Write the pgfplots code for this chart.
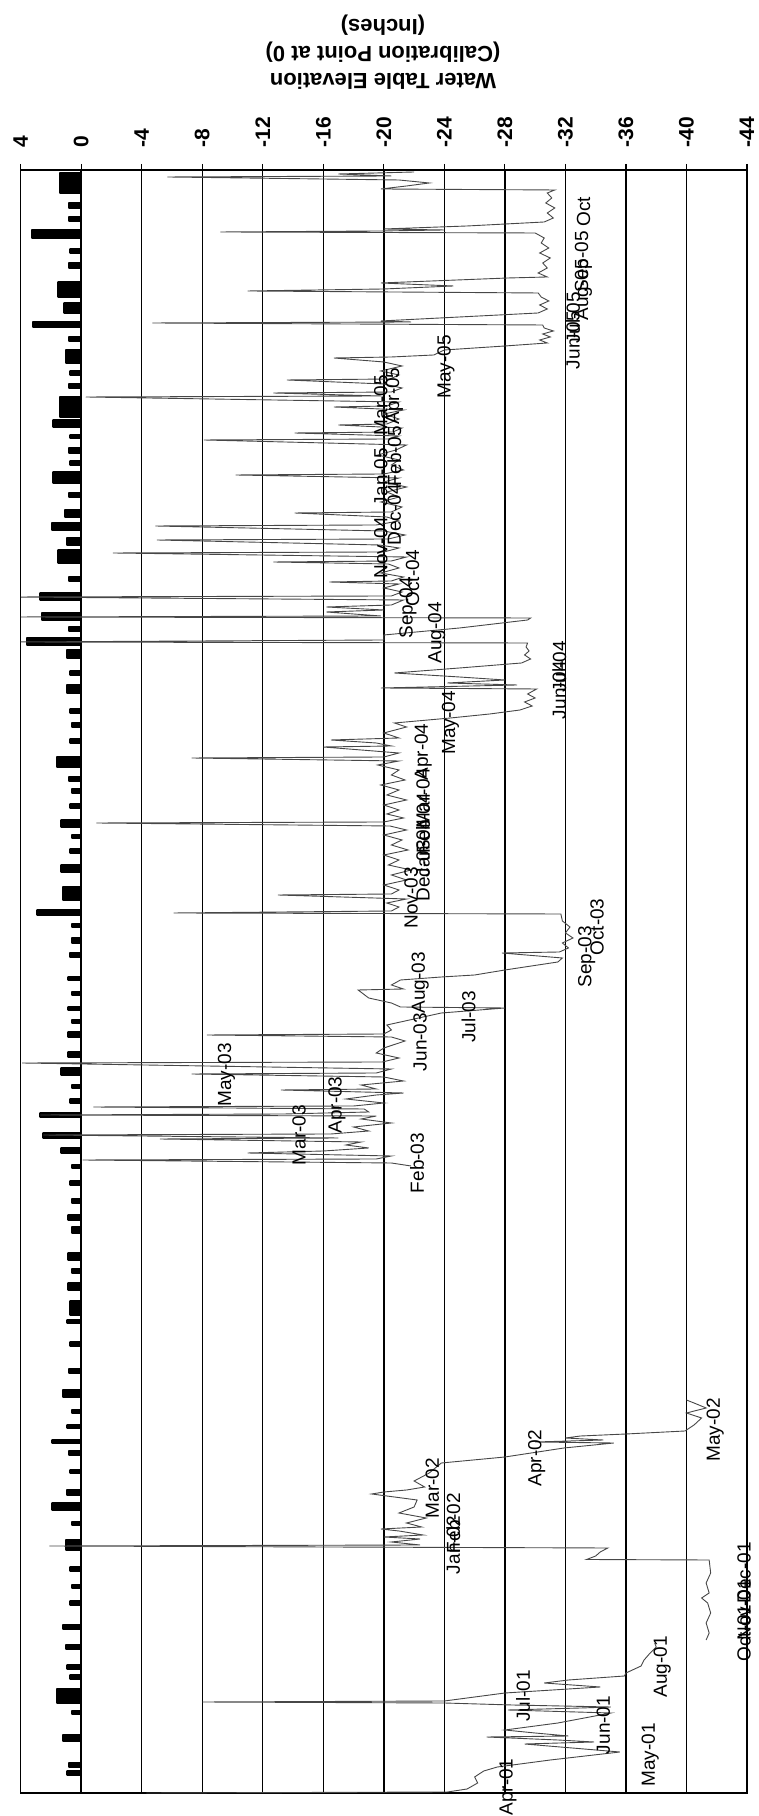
\documentclass[border=0pt]{standalone}
\usepackage{pgfplots}
\pgfplotsset{compat=1.18}
\usepackage{fontspec}
\setmainfont{Liberation Sans}
\begin{document}
\begin{tikzpicture}[x=1pt,y=1pt,
  dl/.style={rotate=90, font=\fontsize{9.5}{10}\selectfont, inner sep=0pt}]
\useasboundingbox (-10.35,-11.5) rectangle (369.15,896.5);
\begin{axis}[
  at={(0,0)}, anchor=south west,
  scale only axis, width=363.15pt, height=811.5pt,
  x dir=reverse, xmin=-44, xmax=4, ymin=0, ymax=1623,
  xtick={4,0,-4,-8,-12,-16,-20,-24,-28,-32,-36,-40,-44},
  xticklabels={4,0,-4,-8,-12,-16,-20,-24,-28,-32,-36,-40,-44},
  xtick pos=right, xticklabel pos=right,
  ytick=\empty,
  tick align=outside, major tick length=3pt,
  xmajorgrids, grid style={black, line width=0.7pt},
  axis line style={black, line width=0.8pt},
  tick style={black, line width=0.6pt},
  xticklabel style={rotate=90, anchor=west, font=\fontsize{10.5}{12}\selectfont\bfseries, inner sep=0pt},
  xticklabel shift=8pt,
  clip mode=individual,
]
% rainfall-like thick series along 0
\addplot[black, fill=black, line width=1.2pt, line join=round] coordinates {
(0,0)
(0,18)(0.9,18)(0.9,22)(0,22)
(0,26)(0.8,26)(0.8,30)(0,30)
(0,52)(1.2,52)(1.2,58)(0,58)
(0,79)(0.6,79)(0.6,82)(0,82)
(0,90)(1.6,90)(1.6,104)(0,104)
(0,114)(0.7,114)(0.7,118)(0,118)
(0,124)(0.9,124)(0.9,128)(0,128)
(0,144)(1.0,144)(1.0,148)(0,148)
(0,164)(1.2,164)(1.2,168)(0,168)
(0,188)(0.7,188)(0.7,192)(0,192)
(0,205)(0.6,205)(0.6,208)(0,208)
(0,222)(0.7,222)(0.7,226)(0,226)
(0,243)(1.0,243)(1.0,253)(0,253)
(0,268)(0.6,268)(0.6,271)(0,271)
(0,283)(1.9,283)(1.9,290)(0,290)
(0,298)(0.95,298)(0.95,303)(0,303)
(0,320)(0.7,320)(0.7,323)(0,323)
(0,338)(0.8,338)(0.8,342)(0,342)
(0,350)(1.9,350)(1.9,353)(0,353)
(0,365)(0.9,365)(0.9,368)(0,368)
(0,380)(0.6,380)(0.6,383)(0,383)
(0,396)(1.2,396)(1.2,403)(0,403)
(0,420)(0.8,420)(0.8,424)(0,424)
(0,447)(0.7,447)(0.7,451)(0,451)
(0,470)(0.9,470)(0.9,473)(0,473)
(0,478)(0.7,478)(0.7,492)(0,492)
(0,503)(0.85,503)(0.85,510)(0,510)
(0,520)(0.6,520)(0.6,524)(0,524)
(0,533)(0.85,533)(0.85,540)(0,540)
(0,560)(0.6,560)(0.6,566)(0,566)
(0,573)(0.85,573)(0.85,578)(0,578)
(0,590)(0.6,590)(0.6,594)(0,594)
(0,608)(0.7,608)(0.7,612)(0,612)
(0,625)(0.6,625)(0.6,628)(0,628)
(0,640)(1.3,640)(1.3,645)(0,645)
(0,655)(2.5,655)(2.5,660)(0,660)
(0,676)(2.7,676)(2.7,680)(0,680)
(0,690)(0.7,690)(0.7,694)(0,694)
(0,705)(0.6,705)(0.6,708)(0,708)
(0,718)(1.3,718)(1.3,725)(0,725)
(0,736)(0.85,736)(0.85,741)(0,741)
(0,756)(0.85,756)(0.85,761)(0,761)
(0,770)(0.6,770)(0.6,773)(0,773)
(0,783)(0.85,783)(0.85,786)(0,786)
(0,798)(0.6,798)(0.6,801)(0,801)
(0,813)(0.85,813)(0.85,816)(0,816)
(0,836)(0.75,836)(0.75,840)(0,840)
(0,850)(0.6,850)(0.6,855)(0,855)
(0,866)(0.6,866)(0.6,869)(0,869)
(0,878)(2.9,878)(2.9,883)(0,883)
(0,893)(1.2,893)(1.2,906)(0,906)
(0,921)(1.3,921)(1.3,928)(0,928)
(0,940)(0.7,940)(0.7,944)(0,944)
(0,955)(0.6,955)(0.6,958)(0,958)
(0,966)(1.3,966)(1.3,973)(0,973)
(0,985)(0.7,985)(0.7,989)(0,989)
(0,1000)(0.6,1000)(0.6,1004)(0,1004)
(0,1012)(0.8,1012)(0.8,1016)(0,1016)
(0,1026)(1.6,1026)(1.6,1036)(0,1036)
(0,1050)(0.7,1050)(0.7,1054)(0,1054)
(0,1066)(0.6,1066)(0.6,1070)(0,1070)
(0,1080)(0.7,1080)(0.7,1084)(0,1084)
(0,1100)(0.95,1100)(0.95,1108)(0,1108)
(0,1118)(0.7,1118)(0.7,1122)(0,1122)
(0,1135)(0.95,1135)(0.95,1143)(0,1143)
(0,1148)(3.6,1148)(3.6,1155)(0,1155)
(0,1162)(0.8,1162)(0.8,1166)(0,1166)
(0,1173)(2.6,1173)(2.6,1180)(0,1180)
(0,1193)(2.7,1193)(2.7,1200)(0,1200)
(0,1212)(0.8,1212)(0.8,1216)(0,1216)
(0,1230)(1.5,1230)(1.5,1243)(0,1243)
(0,1248)(0.95,1248)(0.95,1255)(0,1255)
(0,1263)(1.95,1263)(1.95,1270)(0,1270)
(0,1276)(1.07,1276)(1.07,1283)(0,1283)
(0,1296)(0.8,1296)(0.8,1300)(0,1300)
(0,1310)(1.84,1310)(1.84,1321)(0,1321)
(0,1328)(0.7,1328)(0.7,1332)(0,1332)
(0,1340)(0.8,1340)(0.8,1345)(0,1345)
(0,1355)(0.7,1355)(0.7,1358)(0,1358)
(0,1366)(1.84,1366)(1.84,1373)(0,1373)
(0,1376)(1.4,1376)(1.4,1396)(0,1396)
(0,1405)(0.8,1405)(0.8,1409)(0,1409)
(0,1418)(0.7,1418)(0.7,1422)(0,1422)
(0,1430)(1.0,1430)(1.0,1443)(0,1443)
(0,1452)(0.8,1452)(0.8,1456)(0,1456)
(0,1466)(3.2,1466)(3.2,1471)(0,1471)
(0,1480)(1.1,1480)(1.1,1490)(0,1490)
(0,1496)(1.5,1496)(1.5,1511)(0,1511)
(0,1525)(0.8,1525)(0.8,1530)(0,1530)
(0,1540)(0.7,1540)(0.7,1544)(0,1544)
(0,1555)(3.27,1555)(3.27,1563)(0,1563)
(0,1572)(0.8,1572)(0.8,1576)(0,1576)
(0,1585)(0.8,1585)(0.8,1590)(0,1590)
(0,1600)(1.4,1600)(1.4,1620)(0,1620)
(0,1623)} -- cycle;
% water table trace, Apr-Aug 2001
\addplot[black!72, line width=0.45pt] coordinates {
(-4.3,0)(-24.2,1)(-25.5,4)(-26.2,10)(-26.0,16)(-26.6,22)(-27.5,26)(-31.0,33)(-35.6,41)(-29.3,49)(-33.9,51)(-31.5,53)(-26.8,56)(-32.2,57)(-30.0,60)(-28.0,63)(-31.5,70)(-35.0,80)(-28.2,83)(-33.0,85)(-35.0,86)(-28.5,88)(-24.0,90)(-8.0,91)(-24.0,92)(-28.0,100)(-34.3,106)(-30.6,110)(-32.2,113)(-35.9,117)(-36.0,120)(-37.0,127)(-37.2,133)(-37.6,140)(-38.0,146)(-37.9,150)
};
% water table trace, Oct 2001 - May 2002
\addplot[black!72, line width=0.45pt] coordinates {
(-41.3,153)(-41.5,160)(-41.3,170)(-41.6,180)(-41.4,190)(-41.0,195)(-41.5,200)(-41.3,210)(-41.6,220)(-41.5,233)(-33.4,233.5)(-34.0,237)(-34.3,241)(-34.8,245)(2.1,247)(-22.4,248)(-20.5,251)(-22.4,254)(-20.0,256)(-22.6,258)(-21.0,262)(-19.8,264)(-22.5,266)(-21.5,270)(-22.8,275)(-21.0,280)(-22.0,286)(-22.2,293)(-19.2,299)(-20.0,301)(-21.5,303)(-22.7,306)(-22.0,312)(-23.0,320)(-23.8,330)(-28.0,336)(-31.9,345)(-35.2,350)(-30.0,351)(-34.5,353)(-32.0,355)(-33.0,357)(-36.0,359)(-39.9,362)(-40.5,368)(-41.0,375)(-40.0,380)(-41.3,385)(-40.5,390)(-40.0,393)
};
% water table trace, 2003-2005
\addplot[black!72, line width=0.45pt] coordinates {
(-21.8,627)(-20.5,630)(-0.1,633)(-19.5,634)(-20.5,637)(-11.0,640)(-16.0,642)(-19.0,645)(-17.5,648)(-18.5,651)(-5.2,654)(-17.0,655)(2.5,658)(-16.5,659)(-19.0,662)(-18.0,666)(-20.5,670)(-18.5,674)(-19.5,677)(2.7,678)(-13.4,679)(-19.0,681)(-18.7,684)(-0.8,686)(-18.0,687)(-20.0,690)(-17.5,694)(-19.5,698)(-21.3,700)(-13.2,703)(-19.5,704)(-18.5,708)(-21.3,712)(-20.0,716)(-7.3,719)(-19.5,720)(-20.5,724)(3.9,730)(-19.9,731)(-21.0,735)(-19.5,740)(-20.0,745)(-21.4,752)(-20.5,756)(-8.3,758)(-20.0,759)(-20.5,763)(-20.2,768)(-22.0,774)(-23.8,780)(-28.0,785)(-21.1,786)(-20.5,790)(-19.0,795)(-18.3,803)(-21.3,804)(-20.5,808)(-21.1,813)(-23.8,816)(-26.0,818)(-28.0,823)(-31.5,831)(-31.8,835)(-27.8,840)(-31.6,841)(-32.2,845)(-31.8,850)(-32.5,855)(-32.0,860)(-32.3,866)(-31.8,872)(-31.7,879)(-6.1,880)(-20.5,882)(-21.0,886)(-20.2,890)(-21.5,894)(-13.0,898)(-20.5,899)(-21.0,903)(-20.0,908)(-21.5,913)(-20.5,918)(-21.8,923)(-20.3,928)(-21.0,933)(-20.0,938)(-21.6,943)(-20.5,948)(-21.2,953)(-20.0,958)(-21.5,963)(-20.4,967)(-1.0,970)(-20.0,971)(-21.3,975)(-20.2,979)(-21.0,983)(-20.0,988)(-21.5,993)(-20.2,998)(-21.0,1003)(-19.8,1008)(-21.4,1013)(-20.5,1018)(-21.0,1023)(-19.6,1028)(-21.0,1032)(-7.3,1035)(-20.0,1036)(-21.0,1040)(-16.0,1046)(-20.5,1047)(-19.5,1050)(-16.5,1053)(-21.0,1055)(-20.0,1060)(-21.5,1066)(-20.7,1070)(-24.4,1075)(-27.0,1079)(-29.0,1083)(-29.8,1087)(-29.3,1091)(-30.0,1095)(-29.5,1099)(-30.1,1104)(-19.8,1105)(-28.8,1108)(-24.2,1110)(-28.0,1113)(-25.0,1116)(-20.7,1120)(-25.0,1125)(-29.1,1130)(-29.7,1134)(-29.3,1138)(-29.6,1142)(-29.4,1146)(-29.5,1150)(4.5,1151)(-20.0,1153)(-20.0,1158)(-25.0,1165)(-29.5,1173)(-29.7,1175)(4.5,1176)(-19.8,1177)(-16.2,1181)(-20.0,1183)(-16.2,1186)(-20.5,1188)(-21.3,1193)(4.5,1196)(-20.5,1197)(-21.2,1201)(-20.0,1205)(-21.0,1209)(-16.4,1211)(-20.5,1212)(-21.3,1216)(-19.8,1220)(-21.0,1225)(-20.3,1229)(-12.7,1231)(-20.5,1232)(-21.5,1236)(-2.1,1240)(-20.0,1241)(-21.0,1245)(-19.7,1248)(-5.0,1253)(-20.3,1254)(-21.4,1258)(-20.0,1262)(-4.9,1267)(-19.5,1268)(-21.0,1272)(-20.2,1276)(-14.1,1280)(-20.5,1281)(-21.2,1286)(-19.8,1291)(-21.0,1296)(-20.2,1301)(-21.5,1306)(-20.0,1311)(-21.0,1315)(-10.2,1318)(-20.0,1319)(-21.3,1323)(-20.5,1328)(-21.0,1333)(-19.6,1338)(-20.8,1343)(-21.5,1348)(-8.1,1353)(-20.3,1354)(-21.0,1357)(-14.1,1360)(-20.6,1361)(-21.2,1365)(-17.0,1368)(-20.2,1369)(-21.0,1374)(-20.0,1379)(-21.3,1383)(-16.7,1386)(-20.2,1387)(-21.0,1391)(-0.3,1396)(-19.8,1397)(-12.7,1400)(-20.5,1401)(-21.2,1405)(-20.0,1409)(-13.6,1413)(-20.4,1414)(-21.0,1418)(-19.8,1422)(-21.2,1427)(-20.0,1431)(-16.7,1435)(-20.5,1436)(-23.3,1438)(-24.0,1443)(-28.0,1447)(-30.8,1450)(-30.3,1453)(-31.0,1456)(-30.5,1459)(-31.2,1462)(-30.6,1465)(-30.5,1468)(-4.7,1470)(-21.8,1471)(-19.8,1472)(-25.0,1476)(-30.2,1480)(-30.8,1484)(-30.3,1488)(-30.9,1492)(-30.4,1496)(-30.2,1500)(-11.0,1502)(-20.0,1504)(-24.6,1507)(-19.8,1510)(-28.2,1515)(-30.8,1516)(-30.2,1520)(-30.8,1525)(-30.5,1530)(-31.0,1535)(-30.3,1540)(-30.9,1545)(-30.4,1550)(-30.6,1555)(-30.0,1560)(-9.2,1561)(-19.8,1562)(-24.0,1563)(-20.0,1564)(-25.5,1567)(-30.6,1571)(-31.2,1575)(-30.8,1580)(-31.3,1585)(-30.7,1590)(-31.1,1595)(-30.8,1600)(-31.3,1603)(-19.8,1604)(-21.5,1607)(-23.0,1610)(-21.0,1613)(-5.7,1616)(-20.5,1617)(-17.0,1619)(-22.0,1621)
};
% month labels
\node[dl] at (axis cs:-28.2,6) {Apr-01};
\node[dl] at (axis cs:-37.6,38) {May-01};
\node[dl] at (axis cs:-34.5,68) {Jun-01};
\node[dl] at (axis cs:-29.2,97) {Jul-01};
\node[dl] at (axis cs:-38.4,126) {Aug-01};
\node[dl] at (axis cs:-43.8,160) {Oct-01};
\node[dl] at (axis cs:-43.8,183) {Nov-01};
\node[dl] at (axis cs:-43.8,220) {Dec-01};
\node[dl] at (axis cs:-24.6,248) {Jan-02};
\node[dl] at (axis cs:-24.6,270) {Feb-02};
\node[dl] at (axis cs:-23.2,305) {Mar-02};
\node[dl] at (axis cs:-30.1,335) {Apr-02};
\node[dl] at (axis cs:-41.9,363) {May-02};
\node[dl] at (axis cs:-22.2,630) {Feb-03};
\node[dl] at (axis cs:-14.4,658) {Mar-03};
\node[dl] at (axis cs:-16.9,688) {Apr-03};
\node[dl] at (axis cs:-9.6,718) {May-03};
\node[dl] at (axis cs:-22.4,751) {Jun-03};
\node[dl] at (axis cs:-25.6,776) {Jul-03};
\node[dl] at (axis cs:-22.4,810) {Aug-03};
\node[dl] at (axis cs:-33.4,836) {Sep-03};
\node[dl] at (axis cs:-34.1,866) {Oct-03};
\node[dl] at (axis cs:-21.8,895) {Nov-03};
\node[dl] at (axis cs:-22.6,922) {Dec-03};
\node[dl] at (axis cs:-22.6,945) {Jan-04};
\node[dl] at (axis cs:-22.6,970) {Feb-04};
\node[dl] at (axis cs:-22.6,995) {Mar-04};
\node[dl] at (axis cs:-22.6,1041) {Apr-04};
\node[dl] at (axis cs:-24.4,1070) {May-04};
\node[dl] at (axis cs:-31.6,1103) {Jun-04};
\node[dl] at (axis cs:-31.6,1126) {Jul-04};
\node[dl] at (axis cs:-23.5,1160) {Aug-04};
\node[dl] at (axis cs:-21.6,1185) {Sep-04};
\node[dl] at (axis cs:-21.9,1215) {Oct-04};
\node[dl] at (axis cs:-19.8,1245) {Nov-04};
\node[dl] at (axis cs:-20.7,1278) {Dec-04};
\node[dl] at (axis cs:-19.8,1316) {Jan-05};
\node[dl] at (axis cs:-20.7,1337) {Feb-05};
\node[dl] at (axis cs:-19.8,1388) {Mar-05};
\node[dl] at (axis cs:-20.7,1397) {Apr-05};
\node[dl] at (axis cs:-24.1,1426) {May-05};
\node[dl] at (axis cs:-32.5,1453) {Jun-05};
\node[dl] at (axis cs:-32.5,1475) {Jul-05};
\node[dl] at (axis cs:-33.2,1503) {Aug-05};
\node[dl] at (axis cs:-33.2,1531) {Sep-05};
\node[dl] at (axis cs:-33.2,1581) {Oct};
\end{axis}
\node[rotate=180, align=center, font=\fontsize{11}{13.5}\selectfont\bfseries] at (181.15,870.5)
  {Water Table Elevation\\(Calibration Point at 0)\\(Inches)};
\end{tikzpicture}
\end{document}
